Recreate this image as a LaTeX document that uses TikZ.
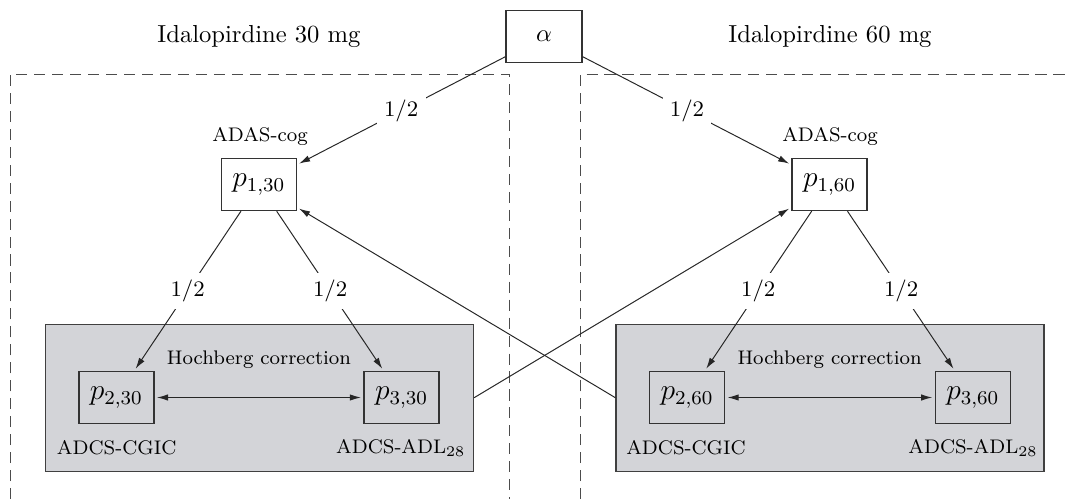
\documentclass[tikz,border=0pt]{standalone}
\usetikzlibrary{arrows.meta}
\definecolor{hgrey}{RGB}{211,212,216}
\begin{document}
\begin{tikzpicture}[x=0.4065pt,y=-0.4065pt,
  pbox/.style={draw=black!80, line width=0.5pt, minimum width=30.5pt, minimum height=21.2pt, inner sep=0pt, font=\large},
  hbox/.style={draw=black!75, fill=hgrey, line width=0.5pt, minimum width=174pt, minimum height=59.8pt, inner sep=0pt},
  lab/.style={font=\footnotesize, inner sep=0pt},
  title/.style={font=\normalsize, inner sep=0pt},
  wlab/.style={font=\small, fill=white, inner sep=3pt},
  conn/.style={draw=black!85, line width=0.4pt},
  arr/.style={conn, -{Latex[length=4.5pt,width=2.6pt]}, shorten >=1pt},
  darr/.style={conn, {Latex[length=4.5pt,width=2.6pt]}-{Latex[length=4.5pt,width=2.6pt]}, shorten >=1pt, shorten <=1pt},
  dashline/.style={draw=black!70, line width=0.4pt, dash pattern=on 4.5pt off 2.8pt}
]
\useasboundingbox (0,0) rectangle (1068,499);

% dashed group frames
\draw[dashline] (10.3,499) -- (10.3,74) -- (509,74) -- (509,499);
\draw[dashline] (580.5,499) -- (580.5,74) -- (1068,74);

% titles
\node[title] (t30) at (259,37) {Idalopirdine 30 mg};
\node[title] (t60) at (830,37) {Idalopirdine 60 mg};

% alpha
\node[pbox, minimum width=30.9pt, font=\normalsize] (alpha) at (544,36.7) {$\alpha$};

% Hochberg boxes
\node[hbox] (h30) at (259.5,397.7) {};
\node[hbox] (h60) at (830,397.7) {};
\node[lab] (hc30) at (259,360) {Hochberg correction};
\node[lab] (hc60) at (829.6,360) {Hochberg correction};

% p boxes
\node[pbox] (p130) at (258.8,184.5) {$p_{1,30}$};
\node[pbox] (p160) at (829.5,184.5) {$p_{1,60}$};
\node[pbox] (p230) at (116.4,397.5) {$p_{2,30}$};
\node[pbox] (p330) at (401.5,397.5) {$p_{3,30}$};
\node[pbox] (p260) at (687,397.5) {$p_{2,60}$};
\node[pbox] (p360) at (972.8,397.5) {$p_{3,60}$};

% labels
\node[lab] (a30) at (260,136) {ADAS-cog};
\node[lab] (a60) at (830,136) {ADAS-cog};
\node[lab] (c30) at (116.7,448) {ADCS-CGIC};
\node[lab] (d30) at (400.8,448) {ADCS-ADL$_{28}$};
\node[lab] (c60) at (686,448) {ADCS-CGIC};
\node[lab] (d60) at (973,448) {ADCS-ADL$_{28}$};

% connectors
\draw[arr] (alpha) -- node[wlab] {1/2} (p130);
\draw[arr] (alpha) -- node[wlab] {1/2} (p160);
\draw[arr] (p130) -- node[wlab] {1/2} (p230);
\draw[arr] (p130) -- node[wlab] {1/2} (p330);
\draw[arr] (p160) -- node[wlab] {1/2} (p260);
\draw[arr] (p160) -- node[wlab] {1/2} (p360);
\draw[darr] (p230) -- (p330);
\draw[darr] (p260) -- (p360);
\draw[arr] (h30.east) -- (p160);
\draw[arr] (h60.west) -- (p130);
\end{tikzpicture}
\end{document}
